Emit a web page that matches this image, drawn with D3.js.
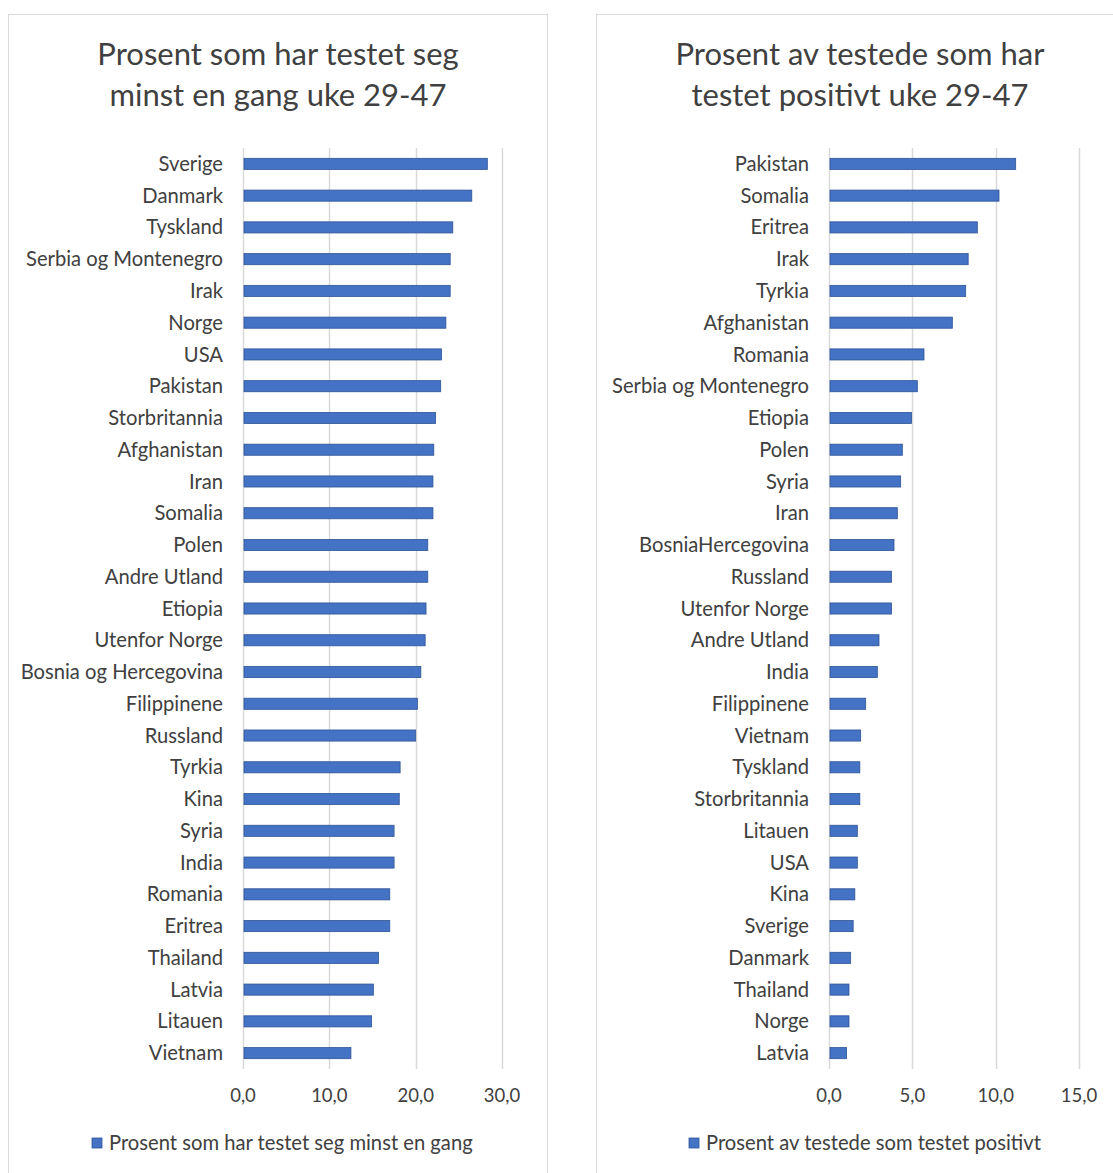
<!DOCTYPE html>
<html><head><meta charset="utf-8">
<script src="https://cdn.jsdelivr.net/npm/d3@7"></script>
<style>
html,body{margin:0;padding:0;background:#fff;}
svg{display:block;}
text{font-family:Lato,"Open Sans",sans-serif;fill:#404040;}
</style></head>
<body>
<svg id="c" width="1113" height="1173"></svg>
<script>
// Left chart data
const leftCategories = ["Sverige","Danmark","Tyskland","Serbia og Montenegro","Irak","Norge","USA","Pakistan","Storbritannia","Afghanistan","Iran","Somalia","Polen","Andre Utland","Etiopia","Utenfor Norge","Bosnia og Hercegovina","Filippinene","Russland","Tyrkia","Kina","Syria","India","Romania","Eritrea","Thailand","Latvia","Litauen","Vietnam"];
const leftValues = [28.3,26.5,24.3,24.0,24.0,23.5,23.0,22.9,22.3,22.1,22.0,22.0,21.4,21.4,21.2,21.1,20.6,20.2,20.0,18.2,18.1,17.5,17.5,17.0,17.0,15.7,15.1,14.9,12.5];
const leftTicks = [0,10,20,30];
const leftTitle = ["Prosent som har testet seg","minst en gang uke 29-47"];
const leftLegend = "Prosent som har testet seg minst en gang";

// Right chart data
const rightCategories = ["Pakistan","Somalia","Eritrea","Irak","Tyrkia","Afghanistan","Romania","Serbia og Montenegro","Etiopia","Polen","Syria","Iran","BosniaHercegovina","Russland","Utenfor Norge","Andre Utland","India","Filippinene","Vietnam","Tyskland","Storbritannia","Litauen","USA","Kina","Sverige","Danmark","Thailand","Norge","Latvia"];
const rightValues = [11.2,10.2,8.9,8.35,8.2,7.4,5.7,5.3,4.95,4.4,4.3,4.1,3.9,3.75,3.75,3.0,2.9,2.2,1.9,1.85,1.85,1.7,1.7,1.55,1.45,1.3,1.2,1.2,1.05];
const rightTicks = [0,5,10,15];
const rightTitle = ["Prosent av testede som har","testet positivt uke 29-47"];
const rightLegend = "Prosent av testede som testet positivt";

const loc = d3.formatLocale({decimal:",",thousands:" ",grouping:[3],currency:["","kr"]});
const fmt = loc.format(".1f");

const svg = d3.select("#c");
const BAR = "#4472C4", BAR_STROKE = "#2F5597", GRID = "#d9d9d9";

function panel(o){
  const g = svg.append("g");
  g.append("rect").attr("x",o.bx).attr("y",14.5).attr("width",o.bw).attr("height",1200)
    .attr("fill","#fff").attr("stroke",GRID).attr("stroke-width",1);
  // title
  o.title.forEach((t,i)=>{
    g.append("text").attr("x",o.tx).attr("y",65+i*41).attr("text-anchor","middle")
      .attr("font-size",31).text(t);
  });
  const x = d3.scaleLinear().domain([0,o.ticks[o.ticks.length-1]]).range([o.x0,o.x1]);
  const y = d3.scaleBand().domain(o.cats).range([148,1069]).paddingInner(0.65).paddingOuter(0.325);
  // grid
  g.selectAll("line.grid").data(o.ticks).join("line")
    .attr("x1",d=>Math.round(x(d))+0.5).attr("x2",d=>Math.round(x(d))+0.5)
    .attr("y1",148).attr("y2",1069).attr("stroke",GRID).attr("stroke-width",1.5);
  // bars
  g.selectAll("rect.bar").data(o.vals).join("rect")
    .attr("x",x(0)+1).attr("y",(d,i)=>y(o.cats[i]))
    .attr("width",d=>x(d)-x(0)-1).attr("height",y.bandwidth())
    .attr("fill",BAR).attr("stroke",BAR_STROKE).attr("stroke-width",0.8);
  // category labels
  g.selectAll("text.cat").data(o.cats).join("text")
    .attr("x",o.x0-20).attr("y",d=>y(d)+y.bandwidth()/2).attr("dy","0.35em")
    .attr("text-anchor","end").attr("font-size",20.2).text(d=>d);
  // tick labels
  g.selectAll("text.tick").data(o.ticks).join("text")
    .attr("x",d=>x(d)).attr("y",1096).attr("dy","0.35em")
    .attr("text-anchor","middle").attr("font-size",18.5).text(d=>fmt(d));
  // legend
  const lg = g.append("g");
  lg.append("text").attr("x",o.lx+17).attr("y",1143).attr("dy","0.35em")
    .attr("font-size",20.2).text(o.legend);
  lg.append("rect").attr("x",o.lx).attr("y",1138).attr("width",10).attr("height",10)
    .attr("fill",BAR).attr("stroke",BAR_STROKE).attr("stroke-width",0.8);
}

panel({bx:8.5,bw:539,tx:278,title:leftTitle,cats:leftCategories,vals:leftValues,ticks:leftTicks,x0:243,x1:502,lx:92,legend:leftLegend});
panel({bx:596.5,bw:600,tx:860,title:rightTitle,cats:rightCategories,vals:rightValues,ticks:rightTicks,x0:829,x1:1079,lx:689,legend:rightLegend});
</script>
</body></html>
